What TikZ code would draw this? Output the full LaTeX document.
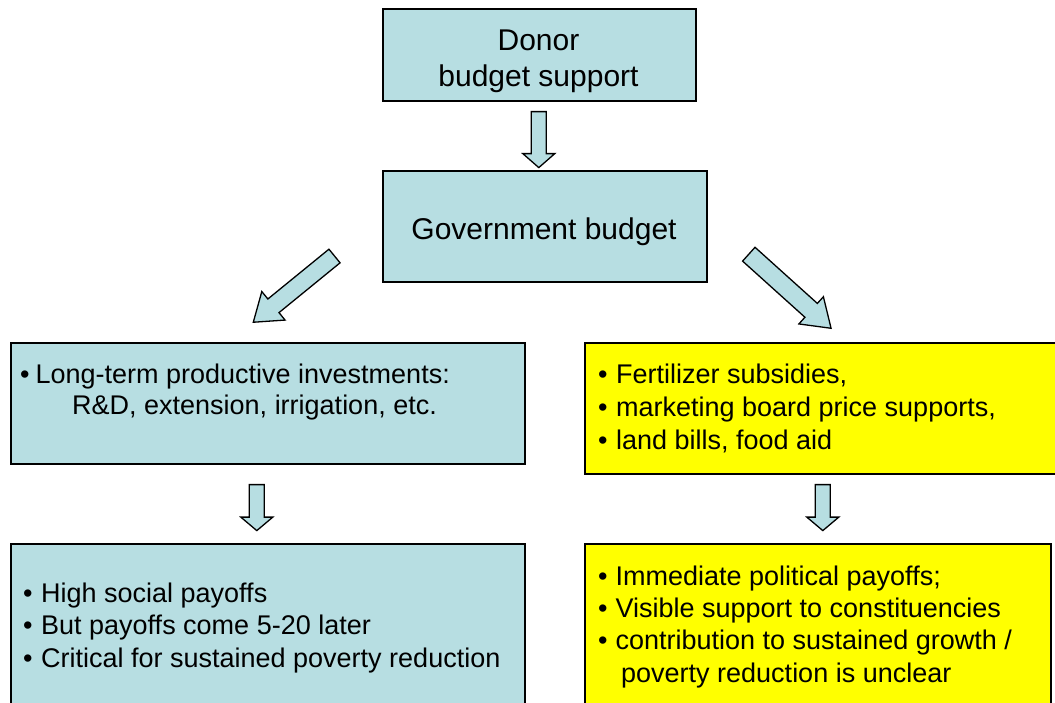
\documentclass[tikz,border=0pt]{standalone}
\usepackage{fontspec}
\setmainfont{Liberation Sans}
\usetikzlibrary{calc}
\definecolor{boxblue}{RGB}{183,222,226}
\definecolor{boxyellow}{RGB}{255,255,0}
\tikzset{
  boxbase/.style={draw=black, line width=1.6pt, inner sep=0pt, anchor=north west},
  bluebox/.style={boxbase, fill=boxblue},
  yellowbox/.style={boxbase, fill=boxyellow},
  toptext/.style={inner sep=0pt, anchor=base, font=\fontsize{30}{36}\selectfont},
  bodytext/.style={inner sep=0pt, anchor=base west, font=\fontsize{27}{32}\selectfont},
  arrowshape/.style={draw=black, line width=1.3pt, fill=boxblue, line join=miter},
  pics/barrow/.style args={#1/#2/#3/#4}{code={
    \draw[arrowshape] (0,-#2) -- ({#1-#4},-#2) -- ({#1-#4},-#3) -- (#1,0)
      -- ({#1-#4},#3) -- ({#1-#4},#2) -- (0,#2) -- cycle;}}
}
\newcommand{\bul}[1]{\textbullet\kern#1pt}
\begin{document}
\begin{tikzpicture}[x=1pt,y=1pt]
\useasboundingbox (0,0) rectangle (1055,-702);
\clip (0,0) rectangle (1055,-702);
\fill[white] (0,0) rectangle (1055,-702);
% boxes
\node[bluebox, minimum width=313, minimum height=92] (donor) at (382,-8) {};
\node[bluebox, minimum width=324, minimum height=111] (gov) at (382,-170) {};
\node[bluebox, minimum width=514, minimum height=121] (inv) at (10,-342) {};
\node[yellowbox, minimum width=472, minimum height=131] (sub) at (584,-342) {};
\node[bluebox, minimum width=514, minimum height=175] (soc) at (10,-543) {};
\node[yellowbox, minimum width=466, minimum height=175] (pol) at (584,-543) {};
% block arrows
\pic[rotate=-90] (a1) at ($(donor.south)+(-0.5,-10)$) {barrow=56/7.5/16/14};
\pic[rotate=219.2] (a2) at (334.5,-256) {barrow=104.8/8.8/18.4/26};
\pic[rotate=-42] (a3) at (748.8,-254.2) {barrow=110.7/9.3/18.3/26.8};
\pic[rotate=-90] (a4) at ($(inv.south)+(-11,-20)$) {barrow=46/7.5/16/13.5};
\pic[rotate=-90] (a5) at ($(sub.south)+(2,-10)$) {barrow=46/7.5/16/13.5};
% texts
\node[toptext] (t1) at (538.5,-50) {Donor};
\node[toptext] (t2) at (538.5,-86) {budget support};
\node[toptext] (t3) at (544,-239) {Government budget};
\node[bodytext] (i1) at (20,-383) {\bul{6}Long-term productive investments:};
\node[bodytext] (i2) at (72,-414) {R\&D, extension, irrigation, etc.};
\node[bodytext] (s1) at (598,-383) {\bul{8.5}Fertilizer subsidies,};
\node[bodytext] (s2) at (598,-416) {\bul{8.5}marketing board price supports,};
\node[bodytext] (s3) at (598,-449) {\bul{8.5}land bills, food aid};
\node[bodytext] (c1) at (23,-602) {\bul{8.5}High social payoffs};
\node[bodytext] (c2) at (23,-634.5) {\bul{8.5}But payoffs come 5-20 later};
\node[bodytext] (c3) at (23,-667) {\bul{8.5}Critical for sustained poverty reduction};
\node[bodytext] (p1) at (598,-585) {\bul{8}Immediate political payoffs;};
\node[bodytext] (p2) at (598,-617) {\bul{8}Visible support to constituencies};
\node[bodytext] (p3) at (598,-649.5) {\bul{8}contribution to sustained growth /};
\node[bodytext] (p4) at (621,-682) {poverty reduction is unclear};
\end{tikzpicture}
\end{document}
